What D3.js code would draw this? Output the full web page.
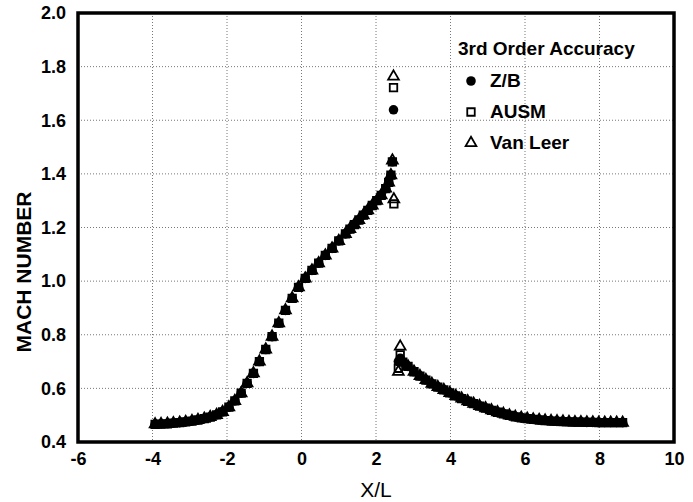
<!DOCTYPE html>
<html>
<head>
<meta charset="utf-8">
<script src="https://cdn.jsdelivr.net/npm/d3@7"></script>
<style>
  body { margin: 0; background: #fff; }
  text { font-family: "Liberation Sans", Arial, Helvetica, sans-serif; fill: #000; }
</style>
</head>
<body>
<div id="chart"></div>
<script>
// stations along the nozzle (X/L)
var xStations = [-3.93, -3.77, -3.60, -3.44, -3.27, -3.11, -2.94, -2.78, -2.61, -2.45,
  -2.28, -2.12, -1.95, -1.79, -1.62, -1.46, -1.29, -1.13, -0.96, -0.79,
  -0.61, -0.43, -0.25, -0.08, 0.10, 0.28, 0.46, 0.64, 0.82, 1.00,
  1.18, 1.30, 1.42, 1.54, 1.66, 1.78, 1.90, 2.02, 2.14, 2.26,
  2.34, 2.40, 2.44, 2.47, 2.48, 2.60, 2.65, 2.72, 2.86, 3.02,
  3.18, 3.34, 3.50, 3.66, 3.82, 3.98, 4.14, 4.30, 4.46, 4.62,
  4.78, 4.94, 5.10, 5.26, 5.42, 5.58, 5.74, 5.90, 6.06, 6.22,
  6.38, 6.54, 6.70, 6.86, 7.02, 7.18, 7.34, 7.50, 7.66, 7.82,
  7.98, 8.14, 8.30, 8.46, 8.62];

var machZB = [0.466, 0.467, 0.468, 0.470, 0.472, 0.475, 0.478, 0.482, 0.487, 0.493,
  0.501, 0.512, 0.530, 0.553, 0.582, 0.619, 0.656, 0.700, 0.745, 0.793,
  0.843, 0.891, 0.936, 0.977, 1.010, 1.040, 1.067, 1.096, 1.122, 1.150,
  1.176, 1.194, 1.211, 1.228, 1.246, 1.264, 1.282, 1.300, 1.320, 1.345,
  1.368, 1.395, 1.445, 1.639, null, 0.700, 0.712, 0.698, 0.682, 0.662,
  0.646, 0.631, 0.617, 0.605, 0.594, 0.583, 0.572, 0.562, 0.552, 0.543,
  0.534, 0.526, 0.518, 0.511, 0.505, 0.499, 0.494, 0.490, 0.487, 0.484,
  0.482, 0.480, 0.478, 0.477, 0.476, 0.475, 0.474, 0.474, 0.473, 0.473,
  0.472, 0.472, 0.472, 0.472, 0.472];

var machAUSM = [0.466, 0.467, 0.468, 0.470, 0.472, 0.475, 0.478, 0.482, 0.487, 0.493,
  0.501, 0.512, 0.530, 0.553, 0.582, 0.619, 0.656, 0.700, 0.745, 0.793,
  0.843, 0.891, 0.936, 0.977, 1.010, 1.040, 1.067, 1.096, 1.122, 1.150,
  1.176, 1.194, 1.211, 1.228, 1.246, 1.264, 1.282, 1.300, 1.320, 1.345,
  1.368, 1.395, 1.445, 1.722, 1.288, 0.675, 0.725, 0.698, 0.682, 0.662,
  0.646, 0.631, 0.617, 0.605, 0.594, 0.583, 0.572, 0.562, 0.552, 0.543,
  0.534, 0.526, 0.518, 0.511, 0.505, 0.499, 0.494, 0.490, 0.487, 0.484,
  0.482, 0.480, 0.478, 0.477, 0.476, 0.475, 0.474, 0.474, 0.473, 0.473,
  0.472, 0.472, 0.472, 0.472, 0.472];

var machVL = [0.466, 0.467, 0.468, 0.470, 0.472, 0.475, 0.478, 0.482, 0.487, 0.493,
  0.501, 0.512, 0.530, 0.553, 0.582, 0.619, 0.656, 0.700, 0.745, 0.793,
  0.843, 0.891, 0.936, 0.977, 1.010, 1.040, 1.067, 1.096, 1.122, 1.150,
  1.176, 1.194, 1.211, 1.228, 1.246, 1.264, 1.282, 1.300, 1.320, 1.345,
  1.368, 1.395, 1.450, 1.763, 1.305, 0.662, 0.756, 0.698, 0.682, 0.662,
  0.646, 0.631, 0.617, 0.605, 0.594, 0.583, 0.572, 0.562, 0.552, 0.543,
  0.534, 0.526, 0.518, 0.511, 0.505, 0.499, 0.494, 0.490, 0.487, 0.484,
  0.482, 0.480, 0.478, 0.477, 0.476, 0.475, 0.474, 0.474, 0.473, 0.473,
  0.472, 0.472, 0.472, 0.472, 0.472];

var xTicks = [-6, -4, -2, 0, 2, 4, 6, 8, 10];
var yTicks = [0.4, 0.6, 0.8, 1.0, 1.2, 1.4, 1.6, 1.8, 2.0];
var legendTitle = "3rd Order Accuracy";
var seriesNames = ["Z/B", "AUSM", "Van Leer"];

var W = 693, H = 502;
var x = d3.scaleLinear().domain([-6, 10]).range([78, 674]);
var y = d3.scaleLinear().domain([0.4, 2.0]).range([442, 13]);

var svg = d3.select("#chart").append("svg")
  .attr("width", W).attr("height", H);
svg.append("rect").attr("width", W).attr("height", H).attr("fill", "#fff");

// dotted grid
var grid = svg.append("g").attr("class", "grid");
grid.selectAll("line.v").data(xTicks.slice(1, -1)).enter().append("line")
  .attr("x1", function(d) { return x(d); }).attr("x2", function(d) { return x(d); })
  .attr("y1", y(2.0)).attr("y2", y(0.4));
grid.selectAll("line.h").data(yTicks.slice(1, -1)).enter().append("line")
  .attr("y1", function(d) { return y(d); }).attr("y2", function(d) { return y(d); })
  .attr("x1", x(-6)).attr("x2", x(10));
grid.selectAll("line")
  .attr("stroke", "#777").attr("stroke-width", 1).attr("stroke-dasharray", "1,2");

// axes (labels only, frame drawn separately)
var xAxis = d3.axisBottom(x).tickValues(xTicks).tickSize(0).tickPadding(10)
  .tickFormat(function(d) { return String(d); });
var gx = svg.append("g").attr("transform", "translate(0," + y(0.4) + ")").call(xAxis);
var yAxis = d3.axisLeft(y).tickValues(yTicks).tickSize(0).tickPadding(12)
  .tickFormat(d3.format(".1f"));
var gy = svg.append("g").attr("transform", "translate(" + x(-6) + ",0)").call(yAxis);
[gx, gy].forEach(function(g) {
  g.select(".domain").remove();
  g.selectAll("text").attr("font-size", 18).attr("font-weight", "bold")
    .attr("font-family", "'Liberation Sans', Arial, sans-serif").attr("fill", "#000");
});

// markers
var sym = {
  circle: d3.symbol().type(d3.symbolCircle).size(72),
  square: d3.symbol().type(d3.symbolSquare).size(56),
  triangle: d3.symbol().type(d3.symbolTriangle).size(50)
};

function pts(vals) {
  return xStations.map(function(xv, i) { return [xv, vals[i]]; })
    .filter(function(p) { return p[1] != null; });
}

var plot = svg.append("g");
plot.selectAll("path.vl").data(pts(machVL)).enter().append("path")
  .attr("class", "vl")
  .attr("d", sym.triangle)
  .attr("transform", function(d) { return "translate(" + x(d[0]) + "," + y(d[1]) + ")"; })
  .attr("fill", "none").attr("stroke", "#000").attr("stroke-width", 1.8);
plot.selectAll("path.ausm").data(pts(machAUSM)).enter().append("path")
  .attr("class", "ausm")
  .attr("d", sym.square)
  .attr("transform", function(d) { return "translate(" + x(d[0]) + "," + y(d[1]) + ")"; })
  .attr("fill", "none").attr("stroke", "#000").attr("stroke-width", 1.8);
plot.selectAll("path.zb").data(pts(machZB)).enter().append("path")
  .attr("class", "zb")
  .attr("d", sym.circle)
  .attr("transform", function(d) { return "translate(" + x(d[0]) + "," + y(d[1]) + ")"; })
  .attr("fill", "#000");

// frame
svg.append("rect")
  .attr("x", x(-6)).attr("y", y(2.0))
  .attr("width", x(10) - x(-6)).attr("height", y(0.4) - y(2.0))
  .attr("fill", "none").attr("stroke", "#000").attr("stroke-width", 3.5);

// axis titles
svg.append("text")
  .attr("x", (x(-6) + x(10)) / 2).attr("y", 497)
  .attr("text-anchor", "middle").attr("font-size", 21)
  .text("X/L");
svg.append("text")
  .attr("transform", "translate(31," + 272 + ") rotate(-90)")
  .attr("text-anchor", "middle").attr("font-size", 21).attr("font-weight", "bold")
  .text("MACH NUMBER");

// legend
var leg = svg.append("g");
leg.append("text").attr("x", 458).attr("y", 55)
  .attr("font-size", 19).attr("font-weight", "bold").text(legendTitle);
var legShapes = [sym.circle, sym.square, sym.triangle];
seriesNames.forEach(function(name, i) {
  var ly = 81 + i * 31;
  leg.append("path").attr("d", legShapes[i])
    .attr("transform", "translate(471," + ly + ")")
    .attr("fill", i === 0 ? "#000" : "none")
    .attr("stroke", "#000").attr("stroke-width", i === 0 ? 0 : 1.8);
  leg.append("text").attr("x", 490).attr("y", ly + 6)
    .attr("font-size", 19).attr("font-weight", "bold").text(name);
});
</script>
</body>
</html>
